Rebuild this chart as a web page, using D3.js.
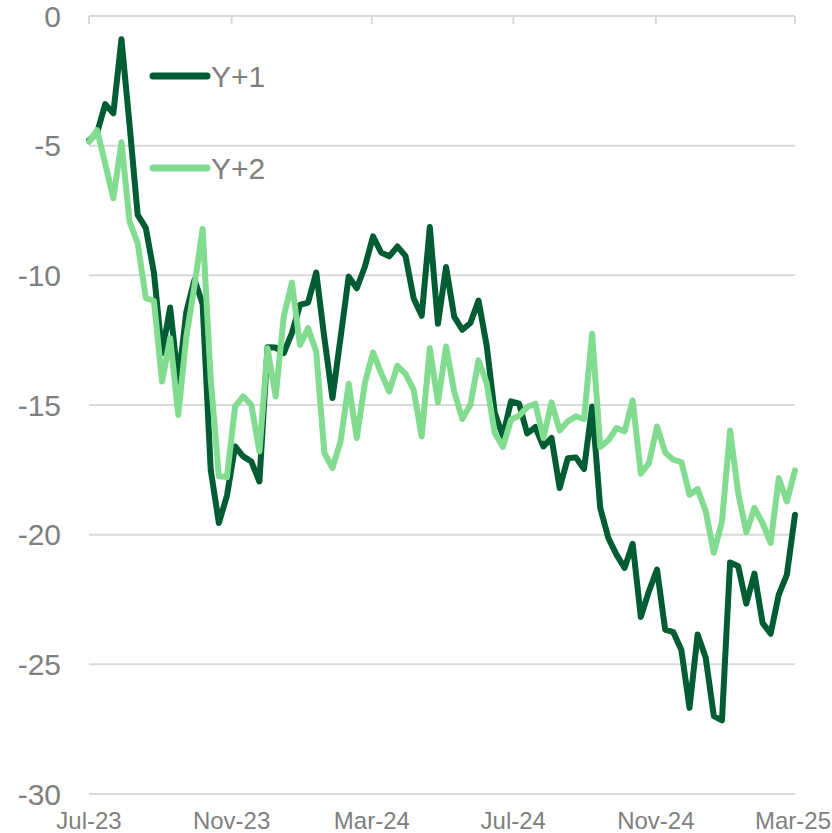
<!DOCTYPE html>
<html>
<head>
<meta charset="utf-8">
<script src="https://cdn.jsdelivr.net/npm/d3@7"></script>
<style>
  html, body { margin: 0; padding: 0; background: #fff; }
  svg { display: block; font-family: "Liberation Sans", Arial, sans-serif; }
</style>
</head>
<body>
<svg id="chart" width="832" height="833"></svg>
<script>
// Weekly readings, first week of July 2023 to the start of March 2025
const startDate = new Date(2023, 6, 1);
const weeks = 88;

const seriesNames = ["Y+1", "Y+2"];

const valuesY1 = [
  -4.8, -4.5, -3.4, -3.75, -0.9, -4.2, -7.67, -8.17, -9.9, -13.0,
  -11.24, -14.1, -11.4, -10.17, -11.1, -17.5, -19.55, -18.5, -16.6, -16.98,
  -17.18, -17.95, -12.77, -12.78, -13.0, -12.23, -11.14, -11.05, -9.89, -12.4,
  -14.73, -12.4, -10.05, -10.5, -9.66, -8.5, -9.12, -9.27, -8.89, -9.25,
  -10.88, -11.56, -8.14, -11.87, -9.68, -11.59, -12.1, -11.84, -10.97, -12.7,
  -15.3, -16.2, -14.86, -14.95, -16.1, -15.85, -16.6, -16.27, -18.2, -17.05,
  -17.02, -17.47, -15.06, -18.97, -20.13, -20.77, -21.28, -20.35, -23.17, -22.18,
  -21.35, -23.66, -23.76, -24.45, -26.68, -23.85, -24.75, -27.0, -27.16, -21.07,
  -21.22, -22.66, -21.5, -23.4, -23.82, -22.31, -21.54, -19.23
];

const valuesY2 = [
  -4.85, -4.4, -5.7, -7.03, -4.87, -7.93, -8.76, -10.88, -10.98, -14.09,
  -12.42, -15.38, -12.36, -10.4, -8.2, -14.0, -17.75, -17.78, -15.06, -14.67,
  -14.99, -16.79, -12.81, -14.67, -11.59, -10.28, -12.68, -12.04, -12.94, -16.85,
  -17.43, -16.4, -14.18, -16.27, -14.15, -12.97, -13.77, -14.48, -13.49, -13.8,
  -14.41, -16.21, -12.81, -14.9, -12.74, -14.48, -15.54, -14.99, -13.28, -14.15,
  -16.08, -16.62, -15.57, -15.41, -15.08, -14.95, -16.27, -14.9, -15.98, -15.63,
  -15.44, -15.54, -12.25, -16.62, -16.36, -15.89, -16.02, -14.82, -17.65, -17.24,
  -15.83, -16.83, -17.11, -17.2, -18.46, -18.24, -19.1, -20.7, -19.49, -15.98,
  -18.39, -19.91, -18.97, -19.55, -20.32, -17.82, -18.72, -17.52
];

const yTicks = [0, -5, -10, -15, -20, -25, -30];
const xTickDates = [
  new Date(2023, 6, 1), new Date(2023, 10, 1), new Date(2024, 2, 1),
  new Date(2024, 6, 1), new Date(2024, 10, 1), new Date(2025, 2, 1)
];

const dates = d3.range(weeks).map(i => d3.timeDay.offset(startDate, i * 7));

const colors = { "Y+1": "#005c33", "Y+2": "#82dc90" };
const textColor = "#7f7f7f";
const gridColor = "#d9d9d9";
const width = 832;

const svg = d3.select("#chart");

const x = d3.scaleTime()
  .domain([startDate, new Date(2025, 2, 1)])
  .range([89, 795]);

const y = d3.scaleLinear()
  .domain([-30, 0])
  .range([794, 16]);

// Horizontal gridlines
svg.append("g")
  .selectAll("line")
  .data(yTicks)
  .join("line")
  .attr("x1", x.range()[0])
  .attr("x2", x.range()[1])
  .attr("y1", d => y(d))
  .attr("y2", d => y(d))
  .attr("stroke", gridColor)
  .attr("stroke-width", 2);

// Value labels on the left (plain hyphen for the sign)
svg.append("g")
  .selectAll("text")
  .data(yTicks)
  .join("text")
  .attr("x", 61)
  .attr("y", d => y(d))
  .attr("dy", "0.35em")
  .attr("text-anchor", "end")
  .attr("font-size", 30)
  .attr("fill", textColor)
  .text(d => String(d));

// Date axis sits on the zero line, its labels at the bottom
svg.append("g")
  .selectAll("line")
  .data(xTickDates)
  .join("line")
  .attr("x1", d => x(d))
  .attr("x2", d => x(d))
  .attr("y1", y(0))
  .attr("y2", y(0) + 8)
  .attr("stroke", gridColor)
  .attr("stroke-width", 2);

const fmt = d3.timeFormat("%b-%y");
svg.append("g")
  .selectAll("text")
  .data(xTickDates)
  .join("text")
  .attr("x", d => x(d))
  .attr("y", 829)
  .attr("text-anchor", "middle")
  .attr("font-size", 24)
  .attr("fill", textColor)
  .text(d => fmt(d))
  .each(function () {
    // keep the last label inside the right edge
    const box = this.getBBox();
    const over = box.x + box.width - (width - 1);
    if (over > 0) d3.select(this).attr("x", +d3.select(this).attr("x") - over);
  });

// Series lines
const line = d3.line()
  .x((d, i) => x(dates[i]))
  .y(d => y(d));

const series = [
  { name: "Y+1", values: valuesY1 },
  { name: "Y+2", values: valuesY2 }
];

svg.append("g")
  .selectAll("path")
  .data(series)
  .join("path")
  .attr("d", d => line(d.values))
  .attr("fill", "none")
  .attr("stroke", d => colors[d.name])
  .attr("stroke-width", 6)
  .attr("stroke-linejoin", "round")
  .attr("stroke-linecap", "round");

// Legend
const legend = svg.append("g")
  .selectAll("g")
  .data(seriesNames)
  .join("g")
  .attr("transform", (d, i) => `translate(153, ${76 + i * 92})`);

legend.append("line")
  .attr("x1", 0)
  .attr("x2", 54)
  .attr("stroke", d => colors[d])
  .attr("stroke-width", 7)
  .attr("stroke-linecap", "round");

legend.append("text")
  .attr("x", 58)
  .attr("dy", "0.35em")
  .attr("font-size", 30)
  .attr("fill", textColor)
  .text(d => d);
</script>
</body>
</html>
